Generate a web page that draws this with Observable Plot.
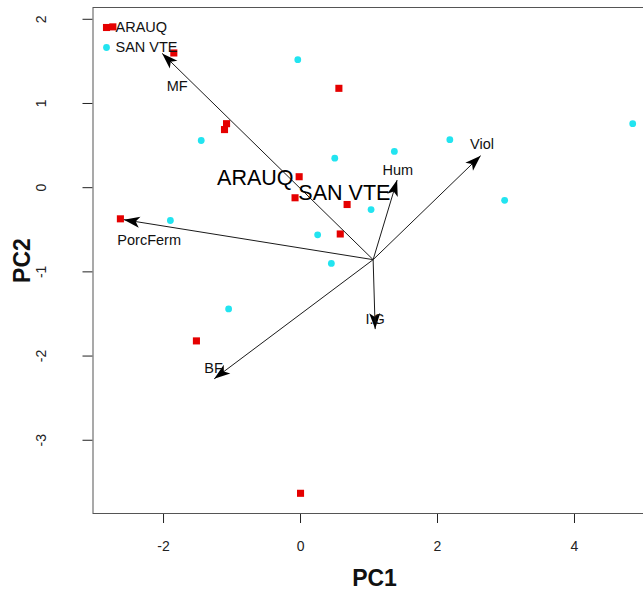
<!DOCTYPE html>
<html><head><meta charset="utf-8">
<script src="https://cdn.jsdelivr.net/npm/d3@7"></script>
<script src="https://cdn.jsdelivr.net/npm/@observablehq/plot@0.6"></script>
<style>
html,body{margin:0;padding:0;background:#fff;overflow:hidden;}
#chart{width:643px;height:590px;overflow:hidden;}
</style></head><body><div id="chart"></div>
<script>
// ---- data ----
const groups = ["ARAUQ", "SAN VTE"];
const arauqPC1 = [-2.74, -1.85, 0.56, -1.08, -1.11, -0.02, -0.08, 0.68, 0.58, -2.63, -1.52, 0.00];
const arauqPC2 = [1.91, 1.60, 1.18, 0.76, 0.69, 0.13, -0.12, -0.20, -0.55, -0.37, -1.82, -3.63];
const sanvtePC1 = [-0.04, -1.45, 0.50, 1.37, 2.18, 4.85, 2.98, 1.03, 0.25, 0.45, -1.90, -1.05];
const sanvtePC2 = [1.52, 0.56, 0.35, 0.43, 0.57, 0.76, -0.15, -0.26, -0.56, -0.90, -0.39, -1.44];
const loadingNames = ["MF", "PorcFerm", "BF", "I.G", "Hum", "Viol"];
const loadingOriginPC1 = 1.06;
const loadingOriginPC2 = -0.855;
const loadingTipPC1 = [-2.02, -2.58, -1.26, 1.09, 1.41, 2.63];
const loadingTipPC2 = [1.595, -0.38, -2.27, -1.68, 0.09, 0.38];
const loadingLabelPC1 = [-1.80, -2.21, -1.27, 1.09, 1.42, 2.65];
const loadingLabelPC2 = [1.20, -0.62, -2.15, -1.56, 0.20, 0.51];
const centroidPC1 = [-0.66, 0.64];
const centroidPC2 = [0.11, -0.06];
const xTicks = [-2, 0, 2, 4];
const yTicks = [-3, -2, -1, 0, 1, 2];

const RED = "#e50000", CYAN = "#22e4f0";
const font = "'Liberation Sans', Arial, Helvetica, sans-serif";
const fmt = d => String(d);

const arauq = arauqPC1.map((v, i) => ({pc1: v, pc2: arauqPC2[i]}));
const sanvte = sanvtePC1.map((v, i) => ({pc1: v, pc2: sanvtePC2[i]}));
const loadings = loadingNames.map((n, i) => ({
  name: n, x1: loadingOriginPC1, y1: loadingOriginPC2,
  x2: loadingTipPC1[i], y2: loadingTipPC2[i],
  lx: loadingLabelPC1[i], ly: loadingLabelPC2[i]
}));
const centroids = groups.map((g, i) => ({name: g, pc1: centroidPC1[i], pc2: centroidPC2[i]}));

const chart = Plot.plot({
  width: 643, height: 590,
  marginTop: 7, marginBottom: 77, marginLeft: 92.5, marginRight: -12.5,
  x: {domain: [-3.03, 5.19], ticks: xTicks, tickSize: 10, tickPadding: 18, tickFormat: fmt, label: null},
  y: {domain: [-3.87, 2.14], ticks: yTicks, tickSize: 10, tickFormat: () => "", label: null},
  style: {fontFamily: font, fontSize: "14px", background: "#fff", color: "#222", overflow: "hidden"},
  marks: [
    Plot.frame({stroke: "#555"}),
    Plot.text(yTicks, {y: d => d, text: fmt, frameAnchor: "left", dx: -51.5, rotate: -90, textAnchor: "middle", lineAnchor: "middle", fontSize: 14, fill: "#222"}),
    Plot.text(["PC1"], {frameAnchor: "bottom", dy: 65, text: d => d, textAnchor: "middle", lineAnchor: "middle", fontWeight: "bold", fontSize: 23, fill: "#111"}),
    Plot.text(["PC2"], {frameAnchor: "left", dx: -70, rotate: -90, text: d => d, textAnchor: "middle", lineAnchor: "middle", fontWeight: "bold", fontSize: 23, fill: "#111"}),
    Plot.dot(arauq, {x: "pc1", y: "pc2", symbol: "square", r: 4, fill: RED, stroke: null}),
    Plot.dot(sanvte, {x: "pc1", y: "pc2", symbol: "circle", r: 3.4, fill: CYAN, stroke: null}),
    Plot.link(loadings, {x1: "x1", y1: "y1", x2: "x2", y2: "y2", stroke: "#1a1a1a", strokeWidth: 1, markerEnd: "arrow"}),
    Plot.text(loadings, {x: "lx", y: "ly", text: "name", fontSize: 14.5, fill: "#111"}),
    Plot.text(centroids, {x: "pc1", y: "pc2", text: "name", fontSize: 21.5, fill: "#000"}),
    // legend (top-left inside the frame)
    Plot.dot([groups[0]], {frameAnchor: "top-left", dx: 13.5, dy: 20, symbol: "square", r: 4, fill: RED, stroke: null}),
    Plot.dot([groups[1]], {frameAnchor: "top-left", dx: 13.5, dy: 40, symbol: "circle", r: 3.4, fill: CYAN, stroke: null}),
    Plot.text([groups[0]], {frameAnchor: "top-left", dx: 22.5, dy: 20, text: d => d, textAnchor: "start", lineAnchor: "middle", fontSize: 14.5, fill: "#111"}),
    Plot.text([groups[1]], {frameAnchor: "top-left", dx: 22.5, dy: 40, text: d => d, textAnchor: "start", lineAnchor: "middle", fontSize: 14.5, fill: "#111"})
  ]
});

// restyle the arrow markers as filled, notched arrowheads (as in the reference)
chart.querySelectorAll("marker").forEach(m => {
  m.setAttribute("viewBox", "-17 -7 18 14");
  m.setAttribute("markerWidth", "18");
  m.setAttribute("markerHeight", "14");
  m.setAttribute("markerUnits", "userSpaceOnUse");
  m.setAttribute("refX", "0");
  m.setAttribute("refY", "0");
  m.setAttribute("orient", "auto");
  m.removeAttribute("stroke");
  m.removeAttribute("stroke-width");
  m.removeAttribute("fill");
  m.querySelectorAll("path").forEach(p => {
    p.setAttribute("d", "M0,0L-16,-5.5L-12,0L-16,5.5Z");
    p.setAttribute("fill", "#000");
    p.setAttribute("stroke", "none");
  });
});
document.getElementById("chart").append(chart);
</script></body></html>
